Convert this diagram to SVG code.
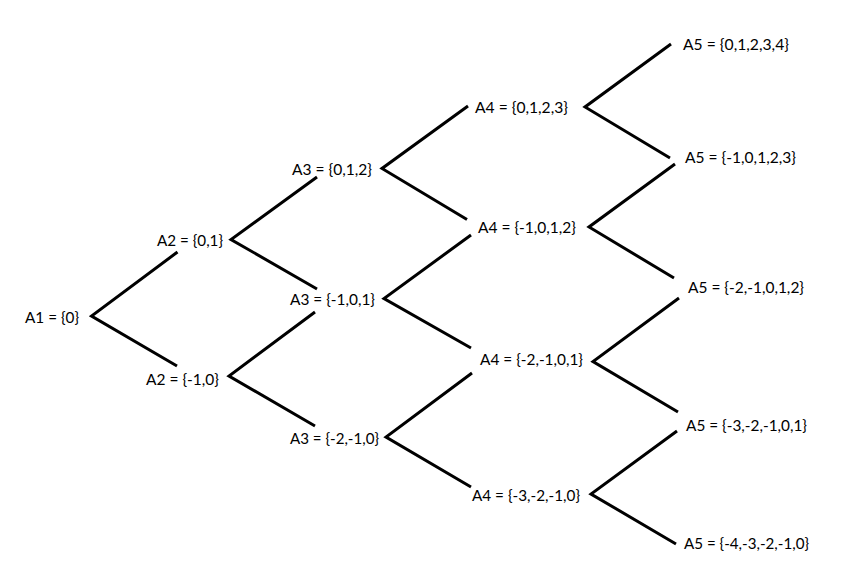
<svg xmlns="http://www.w3.org/2000/svg" width="867" height="585" viewBox="0 0 867 585">
<style>
.t{font-family:Lato,"Open Sans","Liberation Sans",sans-serif;font-size:16px;fill:#000}
.c{fill:none;stroke:#000;stroke-width:3;stroke-linecap:butt;stroke-linejoin:miter}
</style>
<rect width="867" height="585" fill="#fff"/>
<g id="connectors">
<polyline class="c" points="177.5,252 91.5,316 177,366"/>
<polyline class="c" points="317,177 231,239.5 317,289"/>
<polyline class="c" points="315,312 229,376 315,426"/>
<polyline class="c" points="468,106 382,168.5 467,219.5"/>
<polyline class="c" points="471,235 384,298.5 471,348"/>
<polyline class="c" points="472,373 386,437 471,487"/>
<polyline class="c" points="671,44 585,107 670,158"/>
<polyline class="c" points="675,164 589,227 674,278"/>
<polyline class="c" points="679,298 593,361.5 678,412"/>
<polyline class="c" points="677,431 591,494 676,544"/>
</g>
<g id="A1"><text class="t" x="25" y="323" textLength="54" lengthAdjust="spacingAndGlyphs">A1 = {0}</text></g>
<g id="A2a"><text class="t" x="157" y="245.5" textLength="66" lengthAdjust="spacingAndGlyphs">A2 = {0,1}</text></g>
<g id="A2b"><text class="t" x="146" y="385" textLength="73" lengthAdjust="spacingAndGlyphs">A2 = {-1,0}</text></g>
<g id="A3a"><text class="t" x="292" y="175" textLength="80" lengthAdjust="spacingAndGlyphs">A3 = {0,1,2}</text></g>
<g id="A3b"><text class="t" x="290" y="305" textLength="85" lengthAdjust="spacingAndGlyphs">A3 = {-1,0,1}</text></g>
<g id="A3c"><text class="t" x="290" y="444" textLength="89" lengthAdjust="spacingAndGlyphs">A3 = {-2,-1,0}</text></g>
<g id="A4a"><text class="t" x="475" y="113" textLength="93" lengthAdjust="spacingAndGlyphs">A4 = {0,1,2,3}</text></g>
<g id="A4b"><text class="t" x="478" y="233" textLength="98" lengthAdjust="spacingAndGlyphs">A4 = {-1,0,1,2}</text></g>
<g id="A4c"><text class="t" x="480" y="365" textLength="103" lengthAdjust="spacingAndGlyphs">A4 = {-2,-1,0,1}</text></g>
<g id="A4d"><text class="t" x="472" y="500.5" textLength="108" lengthAdjust="spacingAndGlyphs">A4 = {-3,-2,-1,0}</text></g>
<g id="A5a"><text class="t" x="683" y="49.5" textLength="106" lengthAdjust="spacingAndGlyphs">A5 = {0,1,2,3,4}</text></g>
<g id="A5b"><text class="t" x="685" y="163" textLength="111" lengthAdjust="spacingAndGlyphs">A5 = {-1,0,1,2,3}</text></g>
<g id="A5c"><text class="t" x="688" y="293" textLength="116" lengthAdjust="spacingAndGlyphs">A5 = {-2,-1,0,1,2}</text></g>
<g id="A5d"><text class="t" x="686" y="431" textLength="121" lengthAdjust="spacingAndGlyphs">A5 = {-3,-2,-1,0,1}</text></g>
<g id="A5e"><text class="t" x="684" y="549" textLength="125" lengthAdjust="spacingAndGlyphs">A5 = {-4,-3,-2,-1,0}</text></g>
</svg>
